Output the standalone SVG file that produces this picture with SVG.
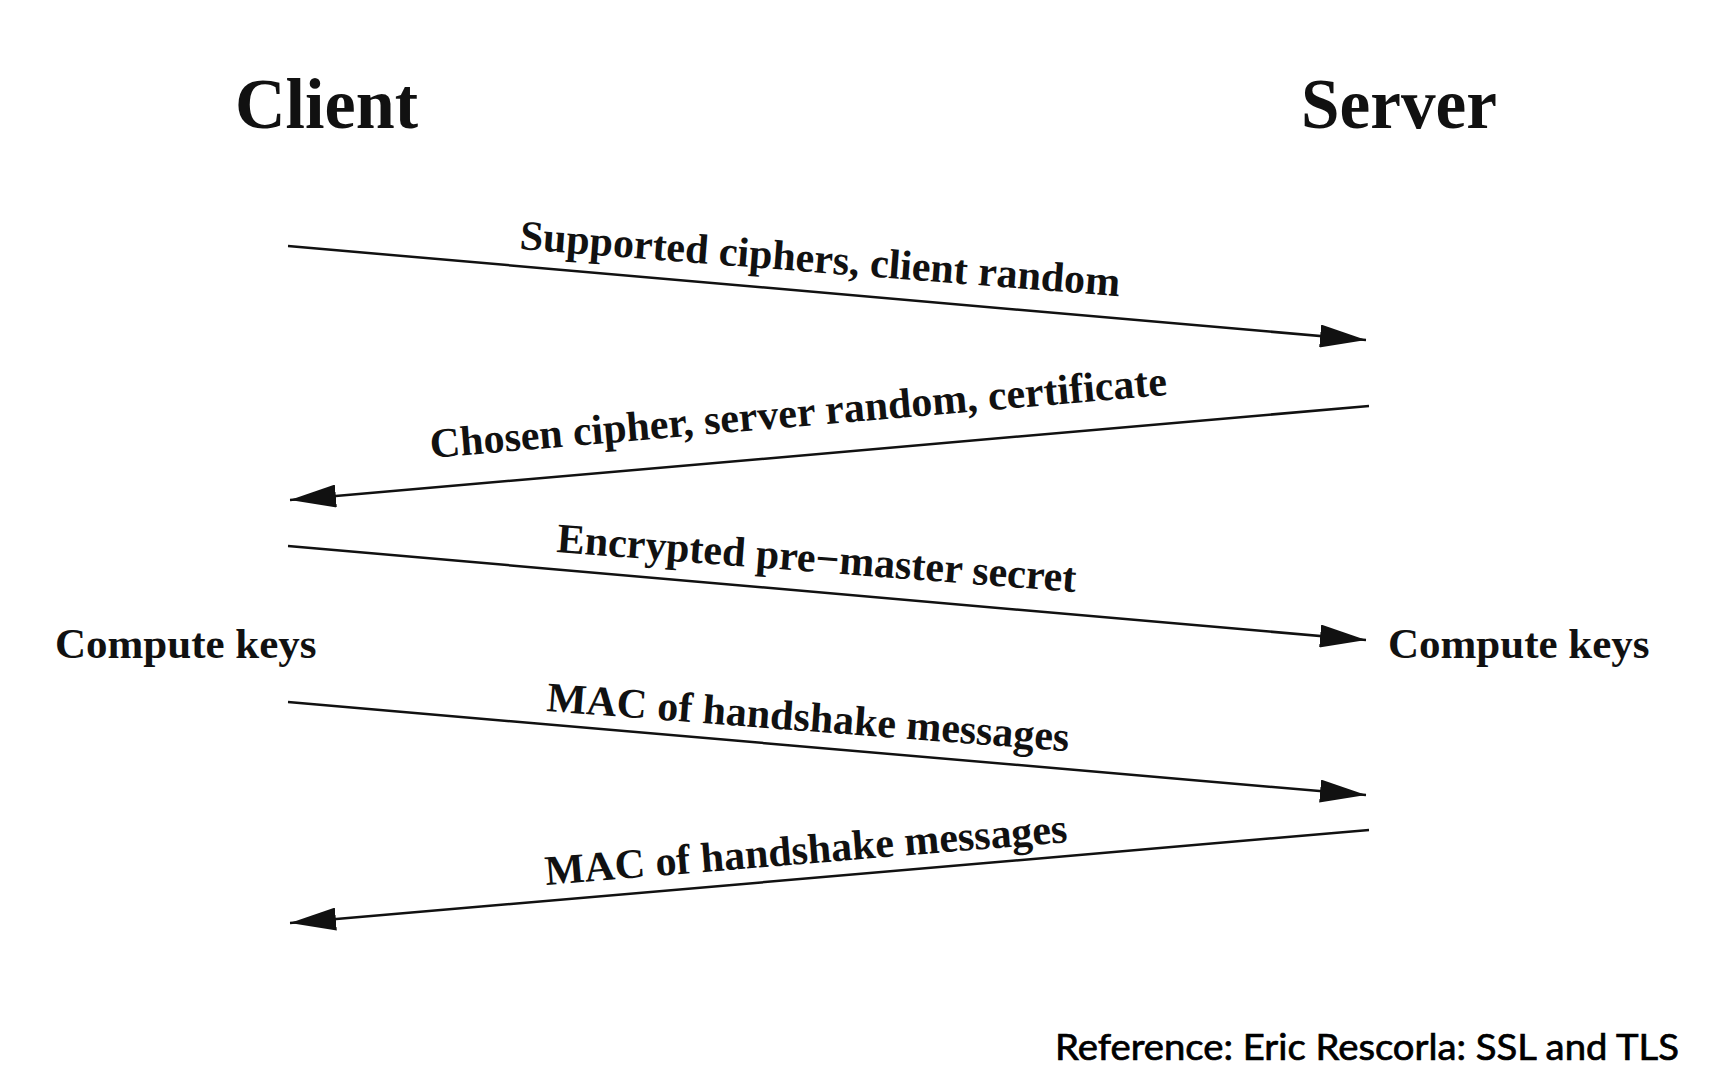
<svg xmlns="http://www.w3.org/2000/svg" width="1712" height="1084" viewBox="0 0 1712 1084">
  <style>
    .title { font-family: "Liberation Serif", "Times New Roman", serif; font-weight: bold; font-size: 72px; fill: #111; }
    .lbl { font-family: "Liberation Serif", "Times New Roman", serif; font-weight: bold; font-size: 42px; fill: #111; }
    .side { font-family: "Liberation Serif", "Times New Roman", serif; font-weight: bold; font-size: 43px; fill: #111; }
    .ref { font-family: "Lato", "DejaVu Sans", sans-serif; font-weight: normal; font-size: 36px; fill: #000; stroke: #000; stroke-width: 0.7px; }
    .msg { stroke: #111; stroke-width: 2.5; fill: none; marker-end: url(#ah); }
  </style>
  <defs>
    <marker id="ah" viewBox="0 0 46 23" refX="46" refY="11.5" markerWidth="46" markerHeight="23" markerUnits="userSpaceOnUse" orient="auto">
      <path d="M0,0 L46,11.5 L0,23 Z" fill="#111"/>
    </marker>
  </defs>
  <rect x="0" y="0" width="1712" height="1084" fill="#ffffff"/>

  <g id="client">
    <text class="title" x="235" y="128" textLength="183" lengthAdjust="spacingAndGlyphs">Client</text>
    <text class="side" x="55" y="658">Compute keys</text>
  </g>
  <g id="server">
    <text class="title" x="1301" y="128" textLength="196" lengthAdjust="spacingAndGlyphs">Server</text>
    <text class="side" x="1388" y="658">Compute keys</text>
  </g>

  <g id="connectors">
    <line class="msg" x1="288" y1="246" x2="1366" y2="340"/>
    <line class="msg" x1="1369" y1="406" x2="290" y2="500"/>
    <line class="msg" x1="288" y1="546" x2="1366" y2="640"/>
    <line class="msg" x1="288" y1="702" x2="1366" y2="795"/>
    <line class="msg" x1="1369" y1="830" x2="290" y2="923"/>
  </g>

  <g id="labels">
    <text class="lbl" x="519" y="249" transform="rotate(4.5 519 249)">Supported ciphers, client random</text>
    <text class="lbl" x="431" y="458" transform="rotate(-4.9 431 458)">Chosen cipher, server random, certificate</text>
    <text class="lbl" x="556" y="552" transform="rotate(4.4 556 552)">Encrypted pre−master secret</text>
    <text class="lbl" x="546" y="711" transform="rotate(4.4 546 711)">MAC of handshake messages</text>
    <text class="lbl" x="546" y="885" transform="rotate(-4.7 546 885)">MAC of handshake messages</text>
  </g>

  <g id="reference">
    <text class="ref" x="1055" y="1060" textLength="624" lengthAdjust="spacingAndGlyphs">Reference: Eric Rescorla: SSL and TLS</text>
  </g>
</svg>
